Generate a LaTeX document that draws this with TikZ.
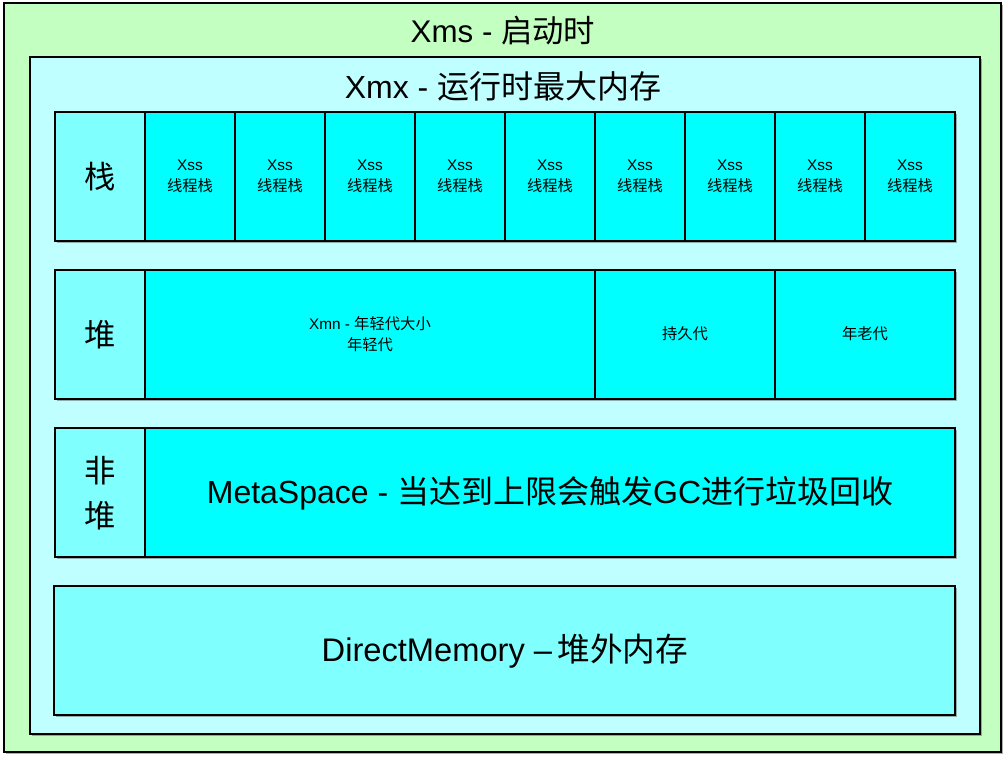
\documentclass[tikz,border=0pt]{standalone}
\usepackage{fontspec}
\setmainfont{Liberation Sans}
\newfontfamily\cjk{Noto Sans CJK SC}
\usetikzlibrary{shadows}

\definecolor{xmsgreen}{HTML}{C2FFC0}
\definecolor{xmxcyan}{HTML}{C0FFFF}
\definecolor{labelcyan}{HTML}{80FFFF}
\definecolor{cellcyan}{HTML}{00FFFF}

\tikzset{
  region/.style={draw=black, line width=0.8pt,
    drop shadow={shadow xshift=1.5pt, shadow yshift=-1.5pt, opacity=0.45, fill=black!70}},
  bigtext/.style={inner sep=0pt, font=\fontsize{23.5pt}{28pt}\selectfont},
  labeltext/.style={inner sep=0pt, align=center, font=\cjk\fontsize{23.5pt}{34pt}\selectfont},
  smalltext/.style={inner sep=0pt, align=center, font=\fontsize{11.5pt}{16pt}\selectfont}
}

\begin{document}
\begin{tikzpicture}[x=0.75pt, y=-0.75pt]
\useasboundingbox[fill=white] (0,0) rectangle (1008,758);

% Xms
\draw[region, fill=xmsgreen] (4,3) rectangle (1001,752);
\node[bigtext] (xms) at (503,31) {Xms - {\cjk 启动时}};

% Xmx
\draw[region, fill=xmxcyan] (30,57) rectangle (980,734);
\node[bigtext, font=\fontsize{24pt}{28pt}\selectfont] (xmx) at (503,86) {Xmx - {\cjk 运行时最大内存}};

% 栈
\draw[region, fill=labelcyan] (55,112) rectangle (145,241);
\node[labeltext] (stack) at (100,177) {栈};
\foreach \i in {0,...,8} {
  \draw[region, fill=cellcyan] ({145+90*\i},112) rectangle ({235+90*\i},241);
  \node[smalltext] (xss\i) at ({190+90*\i},176) {Xss\\{\cjk 线程栈}};
}

% 堆
\draw[region, fill=labelcyan] (55,270) rectangle (145,399);
\node[labeltext] (heap) at (100,335) {堆};
\draw[region, fill=cellcyan] (145,270) rectangle (595,399);
\node[smalltext] (young) at (370,334) {Xmn - {\cjk 年轻代大小}\\{\cjk 年轻代}};
\draw[region, fill=cellcyan] (595,270) rectangle (775,399);
\node[smalltext] (perm) at (685,334) {\cjk 持久代};
\draw[region, fill=cellcyan] (775,270) rectangle (955,399);
\node[smalltext] (old) at (865,334) {\cjk 年老代};

% 非堆
\draw[region, fill=labelcyan] (55,428) rectangle (145,557);
\node[labeltext] (nonheap) at (100,493) {非\\堆};
\draw[region, fill=cellcyan] (145,428) rectangle (955,557);
\node[bigtext, font=\fontsize{24pt}{28pt}\selectfont] (meta) at (550,493) {MetaSpace - {\cjk 当达到上限会触发}GC{\cjk 进行垃圾回收}};

% DirectMemory
\draw[region, fill=labelcyan] (54,586) rectangle (955,715);
\node[bigtext, font=\fontsize{24.5pt}{28pt}\selectfont] (direct) at (505,651) {DirectMemory –\,{\cjk 堆外内存}};

\end{tikzpicture}
\end{document}
